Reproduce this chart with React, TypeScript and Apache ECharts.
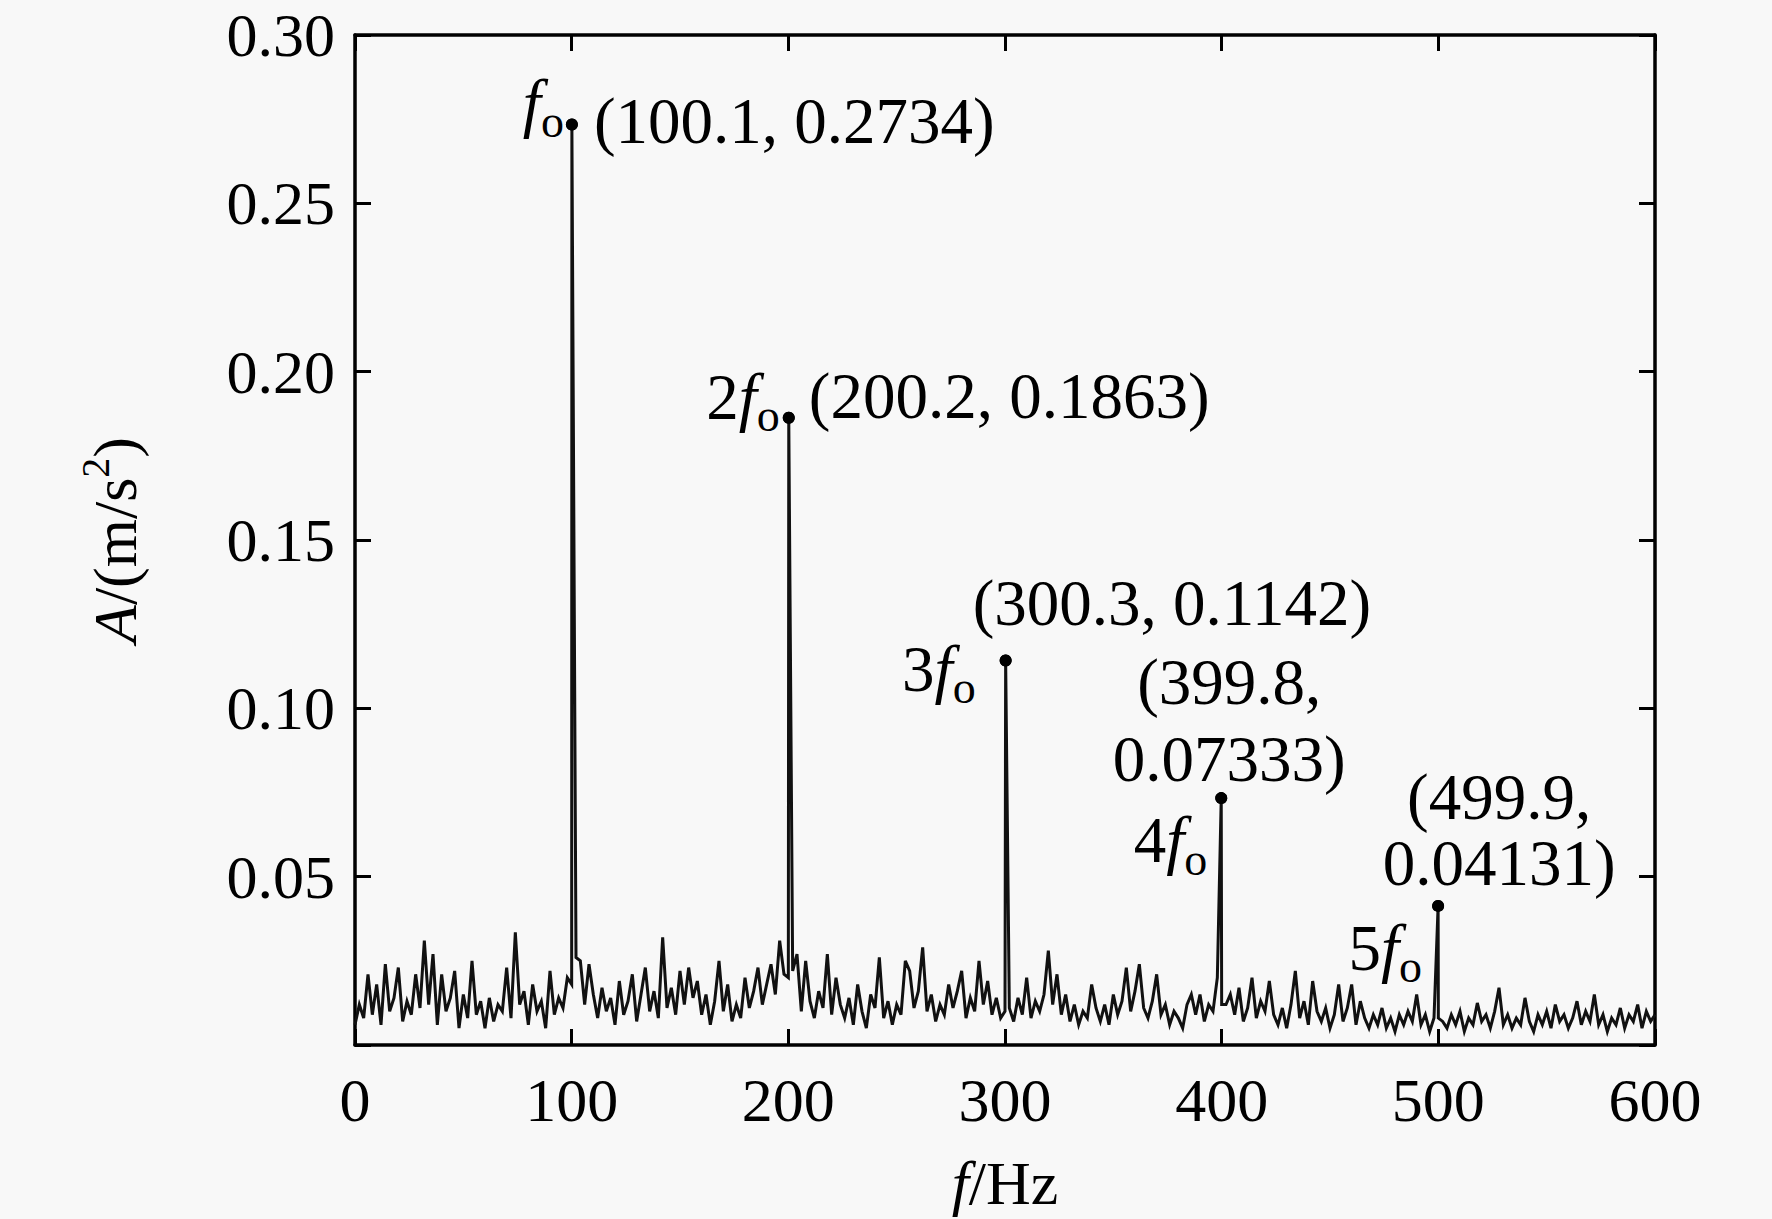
import React, { useEffect, useRef } from "react";
import * as echarts from "echarts";

// ---- data ----
const X_TICKS = [0, 100, 200, 300, 400, 500, 600];
const Y_TICKS = [0, 0.05, 0.1, 0.15, 0.2, 0.25, 0.3];

const NOISE_START_HZ = 0;
const NOISE_STEP_HZ = 2;
// background spectrum amplitude (m/s^2), one value every 2 Hz from 0 Hz to 600 Hz
const noiseAmplitude = [
  0.006, 0.012, 0.008, 0.021, 0.009, 0.018, 0.006, 0.024, 0.010, 0.014,
  0.023, 0.007, 0.013, 0.009, 0.021, 0.011, 0.031, 0.012, 0.027, 0.006,
  0.021, 0.010, 0.014, 0.022, 0.005, 0.015, 0.008, 0.025, 0.009, 0.013,
  0.005, 0.014, 0.007, 0.012, 0.010, 0.023, 0.008, 0.0335, 0.012, 0.016,
  0.006, 0.018, 0.010, 0.013, 0.005, 0.022, 0.009, 0.014, 0.011, 0.020,
  0.018, 0.026, 0.025, 0.012, 0.024, 0.015, 0.008, 0.017, 0.010, 0.014,
  0.006, 0.019, 0.009, 0.013, 0.021, 0.007, 0.015, 0.023, 0.010, 0.016,
  0.008, 0.032, 0.011, 0.017, 0.009, 0.022, 0.012, 0.023, 0.014, 0.019,
  0.009, 0.015, 0.006, 0.013, 0.025, 0.010, 0.018, 0.007, 0.012, 0.008,
  0.020, 0.011, 0.016, 0.023, 0.012, 0.018, 0.024, 0.015, 0.031, 0.021,
  0.020, 0.022, 0.027, 0.010, 0.025, 0.013, 0.008, 0.016, 0.011, 0.027,
  0.009, 0.020, 0.012, 0.008, 0.014, 0.006, 0.018, 0.010, 0.005, 0.015,
  0.011, 0.026, 0.008, 0.013, 0.006, 0.012, 0.009, 0.025, 0.022, 0.011,
  0.016, 0.029, 0.010, 0.015, 0.007, 0.012, 0.009, 0.018, 0.011, 0.016,
  0.022, 0.008, 0.014, 0.010, 0.025, 0.012, 0.019, 0.009, 0.014, 0.008,
  0.010, 0.011, 0.007, 0.014, 0.009, 0.020, 0.008, 0.013, 0.010, 0.015,
  0.028, 0.012, 0.021, 0.009, 0.015, 0.007, 0.012, 0.006, 0.010, 0.008,
  0.018, 0.011, 0.007, 0.012, 0.006, 0.015, 0.009, 0.013, 0.023, 0.010,
  0.016, 0.024, 0.011, 0.008, 0.013, 0.021, 0.009, 0.012, 0.006, 0.010,
  0.008, 0.005, 0.012, 0.015, 0.009, 0.015, 0.007, 0.012, 0.010, 0.020,
  0.012, 0.012, 0.015, 0.009, 0.017, 0.007, 0.011, 0.020, 0.008, 0.013,
  0.010, 0.019, 0.009, 0.006, 0.011, 0.005, 0.012, 0.022, 0.008, 0.013,
  0.006, 0.019, 0.010, 0.007, 0.011, 0.005, 0.009, 0.018, 0.007, 0.011,
  0.018, 0.006, 0.013, 0.008, 0.005, 0.009, 0.006, 0.011, 0.005, 0.008,
  0.004, 0.009, 0.006, 0.010, 0.007, 0.015, 0.006, 0.009, 0.004, 0.008,
  0.008, 0.007, 0.005, 0.009, 0.006, 0.010, 0.004, 0.008, 0.006, 0.0125,
  0.007, 0.009, 0.005, 0.010, 0.017, 0.006, 0.009, 0.005, 0.008, 0.006,
  0.014, 0.007, 0.004, 0.009, 0.006, 0.010, 0.005, 0.012, 0.007, 0.009,
  0.005, 0.008, 0.013, 0.006, 0.010, 0.007, 0.015, 0.006, 0.009, 0.004,
  0.008, 0.006, 0.011, 0.005, 0.009, 0.007, 0.012, 0.005, 0.010, 0.007,
  0.009,
];

const peakFreq = [100.1, 200.2, 300.3, 399.8, 499.9];
const peakAmp = [0.2734, 0.1863, 0.1142, 0.07333, 0.04131];
const peakOrder = [1, 2, 3, 4, 5];
const peakWrap = [false, false, false, true, true];

// ---- label placement (pixels relative to the peak dot) ----
const coordLabelLayout = [
  { align: "left", offset: [22, -4], lineHeight: 70 },
  { align: "left", offset: [20, -22], lineHeight: 70 },
  { align: "left", offset: [-33, -58], lineHeight: 70 },
  { align: "center", offset: [8, -78], lineHeight: 77 },
  { align: "center", offset: [61, -76], lineHeight: 66 },
];
const orderLabelLayout = [
  { offset: [-8, -22] },
  { offset: [-9, -21] },
  { offset: [-30, 8] },
  { offset: [-14, 42] },
  { offset: [-16, 42] },
];

const FONT = "'Liberation Serif', 'Times New Roman', Times, serif";
const INK = "#000";

export default function App() {
  const ref = useRef<HTMLDivElement>(null);

  useEffect(() => {
    if (!ref.current) return;
    const chart = echarts.init(ref.current, undefined, { renderer: "svg" });

    const noisePts = noiseAmplitude.map((v, i) => [NOISE_START_HZ + i * NOISE_STEP_HZ, v]);
    const peakPts = peakFreq.map((f, i) => [f, peakAmp[i]]);
    const spectrum = noisePts.concat(peakPts).sort((a, b) => a[0] - b[0]);

    const noBorder = { textBorderWidth: 0, textBorderColor: "transparent", textShadowBlur: 0 };

    const nameRich = {
      i: { fontFamily: FONT, fontSize: 62, fontStyle: "italic", color: INK, lineHeight: 80, verticalAlign: "middle", ...noBorder },
      n: { fontFamily: FONT, fontSize: 62, color: INK, lineHeight: 80, verticalAlign: "middle", ...noBorder },
      sup: { fontFamily: FONT, fontSize: 40, color: INK, lineHeight: 50, verticalAlign: "top", ...noBorder },
    };
    const orderRich = {
      i: { fontFamily: FONT, fontSize: 65, fontStyle: "italic", color: INK, lineHeight: 84, verticalAlign: "middle", ...noBorder },
      n: { fontFamily: FONT, fontSize: 65, color: INK, lineHeight: 84, verticalAlign: "middle", ...noBorder },
      s: { fontFamily: FONT, fontSize: 46, color: INK, lineHeight: 40, verticalAlign: "bottom", ...noBorder },
    };

    const axisLine = { show: true, onZero: false, lineStyle: { color: INK, width: 3.5 } };
    const axisTick = { show: true, inside: true, length: 16, lineStyle: { color: INK, width: 3 } };
    const axisLabel = { fontFamily: FONT, fontSize: 62, color: INK };

    chart.setOption({
      animation: false,
      backgroundColor: "#f8f8f8",
      grid: { left: 355, right: 117, top: 35, bottom: 167, containLabel: false },
      xAxis: [
        {
          type: "value",
          min: X_TICKS[0],
          max: X_TICKS[X_TICKS.length - 1],
          interval: X_TICKS[1] - X_TICKS[0],
          position: "bottom",
          axisLine,
          axisTick,
          axisLabel: { ...axisLabel, margin: 24 },
          splitLine: { show: false },
          name: "{i|f}{n|/Hz}",
          nameLocation: "middle",
          nameGap: 98,
          nameTextStyle: { fontFamily: FONT, fontSize: 62, color: INK, rich: nameRich },
        },
        {
          type: "value",
          min: X_TICKS[0],
          max: X_TICKS[X_TICKS.length - 1],
          interval: X_TICKS[1] - X_TICKS[0],
          position: "top",
          axisLine,
          axisTick,
          axisLabel: { show: false },
          splitLine: { show: false },
        },
      ],
      yAxis: [
        {
          type: "value",
          min: Y_TICKS[0],
          max: Y_TICKS[Y_TICKS.length - 1],
          interval: 0.05,
          position: "left",
          axisLine,
          axisTick,
          axisLabel: {
            ...axisLabel,
            margin: 20,
            formatter: (v: number) => (v === 0 ? "" : v.toFixed(2)),
          },
          splitLine: { show: false },
          name: "{i|A}{n|/(m/s}{sup|2}{n|)}",
          nameLocation: "middle",
          nameGap: 200,
          nameTextStyle: { fontFamily: FONT, fontSize: 62, color: INK, rich: nameRich },
        },
        {
          type: "value",
          min: Y_TICKS[0],
          max: Y_TICKS[Y_TICKS.length - 1],
          interval: 0.05,
          position: "right",
          axisLine,
          axisTick,
          axisLabel: { show: false },
          splitLine: { show: false },
        },
      ],
      series: [
        {
          type: "line",
          data: spectrum,
          showSymbol: false,
          symbol: "none",
          lineStyle: { color: "#111", width: 3, join: "miter" },
          z: 2,
          silent: true,
        },
        {
          type: "scatter",
          symbol: "circle",
          symbolSize: 12,
          itemStyle: { color: INK, opacity: 1 },
          z: 3,
          data: peakPts.map((p, i) => ({
            value: p,
            label: {
              show: true,
              position: "inside",
              align: coordLabelLayout[i].align,
              verticalAlign: "middle",
              offset: coordLabelLayout[i].offset,
              lineHeight: coordLabelLayout[i].lineHeight,
              fontFamily: FONT,
              fontSize: 65,
              color: INK,
              opacity: 1,
              ...noBorder,
              formatter: () =>
                peakWrap[i]
                  ? `(${peakFreq[i]},\n${peakAmp[i]})`
                  : `(${peakFreq[i]}, ${peakAmp[i]})`,
            },
          })),
        },
        {
          type: "scatter",
          symbol: "circle",
          symbolSize: 12,
          itemStyle: { color: INK, opacity: 1 },
          z: 3,
          data: peakPts.map((p, i) => ({
            value: p,
            label: {
              show: true,
              position: "inside",
              align: "right",
              verticalAlign: "middle",
              offset: orderLabelLayout[i].offset,
              color: INK,
              opacity: 1,
              ...noBorder,
              rich: orderRich,
              formatter: () =>
                (peakOrder[i] === 1 ? "" : `{n|${peakOrder[i]}}`) + "{i|f}{s|o}",
            },
          })),
        },
      ],
    });

    return () => chart.dispose();
  }, []);

  return (
    <div
      ref={ref}
      style={{ position: "fixed", left: 0, top: 0, width: 1772, height: 1219 }}
    />
  );
}
